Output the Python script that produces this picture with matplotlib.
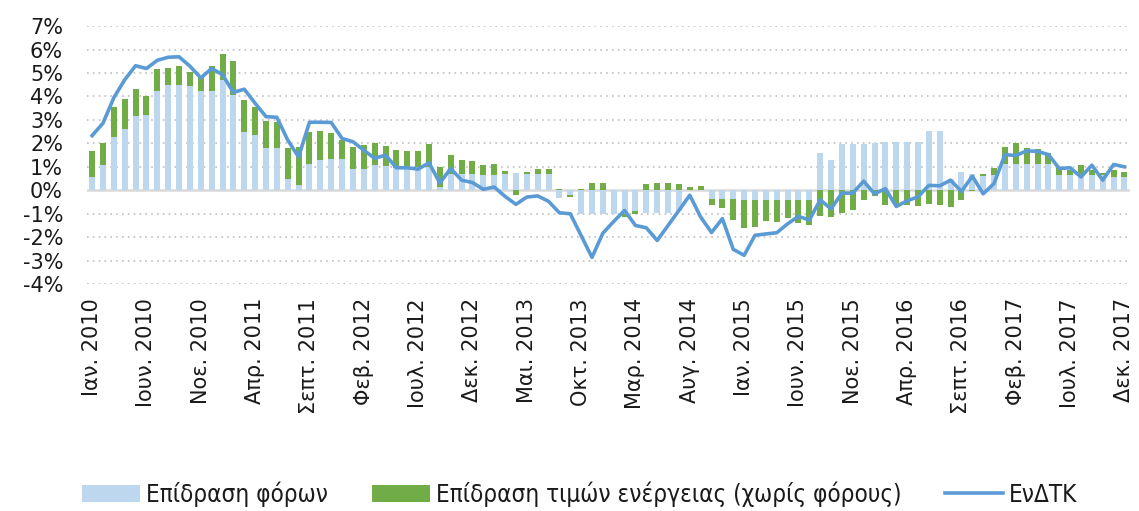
import numpy as np
import matplotlib
matplotlib.use("Agg")
import matplotlib.pyplot as plt
from matplotlib.lines import Line2D
from matplotlib.patches import Patch
from matplotlib import font_manager as fm

months = ["Ιαν.", "Φεβ.", "Μαρ.", "Απρ.", "Μαι.", "Ιουν.", "Ιουλ.", "Αυγ.", "Σεπτ.", "Οκτ.", "Νοε.", "Δεκ."]
years = list(range(2010, 2018))
labels = [f"{m} {y}" for y in years for m in months]

tax_effect = [
    0.57, 1.07, 2.26, 2.61, 3.17, 3.19, 4.24, 4.50, 4.47, 4.44, 4.23, 4.23,
    4.69, 4.07, 2.50, 2.37, 1.79, 1.79, 0.50, 0.21, 1.14, 1.31, 1.33, 1.34,
    0.90, 0.91, 1.06, 1.04, 0.97, 1.00, 1.00, 1.00, 0.15, 0.71, 0.69, 0.69,
    0.67, 0.67, 0.69, 0.74, 0.71, 0.69, 0.69, -0.31, -0.21, -1.00, -1.00, -1.00,
    -1.00, -1.00, -0.90, -0.97, -0.97, -0.97, -0.90, 0.00, 0.00, -0.36, -0.36, -0.37,
    -0.40, -0.43, -0.43, -0.43, -0.43, -0.43, -0.43, 1.60, 1.31, 1.97, 1.97, 1.97,
    2.03, 2.04, 2.04, 2.04, 2.04, 2.54, 2.54, 0.50, 0.76, 0.69, 0.62, 0.64,
    1.11, 1.14, 1.14, 1.14, 1.14, 0.64, 0.64, 0.69, 0.64, 0.64, 0.57, 0.57,
]
energy_effect = [
    1.10, 0.96, 1.27, 1.29, 1.14, 0.84, 0.93, 0.70, 0.83, 0.60, 0.60, 1.07,
    1.14, 1.46, 1.33, 1.17, 1.18, 1.12, 1.31, 1.64, 1.36, 1.23, 1.13, 0.82,
    0.93, 1.02, 0.94, 0.85, 0.74, 0.66, 0.67, 0.96, 0.85, 0.79, 0.60, 0.55,
    0.40, 0.47, 0.14, -0.20, 0.05, 0.21, 0.21, 0.04, -0.07, 0.07, 0.33, 0.31,
    0.03, -0.14, -0.11, 0.26, 0.33, 0.29, 0.26, 0.14, 0.19, -0.25, -0.38, -0.89,
    -1.20, -1.14, -0.88, -0.91, -0.74, -0.97, -1.07, -1.11, -1.14, -0.96, -0.86, -0.40,
    -0.23, -0.64, -0.60, -0.61, -0.67, -0.57, -0.64, -0.71, -0.43, -0.05, 0.09, 0.33,
    0.75, 0.89, 0.67, 0.60, 0.46, 0.29, 0.22, 0.38, 0.22, 0.10, 0.29, 0.19,
]
hicp = [
    2.33, 2.86, 3.95, 4.71, 5.31, 5.19, 5.54, 5.67, 5.69, 5.29, 4.79, 5.19,
    4.93, 4.17, 4.31, 3.71, 3.14, 3.11, 2.14, 1.42, 2.90, 2.90, 2.89, 2.21,
    2.07, 1.71, 1.36, 1.50, 0.96, 0.96, 0.90, 1.17, 0.31, 0.93, 0.43, 0.33,
    0.04, 0.14, -0.26, -0.60, -0.29, -0.24, -0.47, -0.96, -1.00, -1.93, -2.86, -1.83,
    -1.33, -0.86, -1.50, -1.60, -2.14, -1.50, -0.86, -0.21, -1.14, -1.80, -1.21, -2.52,
    -2.77, -1.92, -1.86, -1.81, -1.43, -1.11, -1.27, -0.41, -0.79, -0.12, -0.12, 0.39,
    -0.15, 0.07, -0.69, -0.45, -0.28, 0.21, 0.19, 0.43, -0.05, 0.60, -0.15, 0.29,
    1.52, 1.48, 1.68, 1.66, 1.52, 0.93, 0.96, 0.57, 1.07, 0.43, 1.10, 1.00,
]
series_names = ["Επίδραση φόρων", "Επίδραση τιμών ενέργειας (χωρίς φόρους)", "ΕνΔΤΚ"]
yticks = list(range(-4, 8))

c_tax = "#BDD7EE"
c_energy = "#70AD47"
c_line = "#5B9BD5"
text_c = "#1a1a1a"

fig = plt.figure(figsize=(11.39, 5.11), dpi=100)
ax = fig.add_axes([0.0761, 0.444, 0.9159, 0.505])

x = np.arange(len(labels))
tax = np.array(tax_effect)
en = np.array(energy_effect)
pos_base = np.where(tax > 0, tax, 0)
neg_base = np.where(tax < 0, tax, 0)
en_bottom = np.where(en >= 0, pos_base, neg_base)

w = 0.55
ax.bar(x, tax, width=w, color=c_tax, zorder=2)
ax.bar(x, en, width=w, bottom=en_bottom, color=c_energy, zorder=2)
ax.plot(x, hicp, color=c_line, lw=2.6, zorder=3, solid_joinstyle="round")

ax.set_xlim(-0.5, len(labels) - 0.5)
ax.set_ylim(-4, 7)
ax.set_yticks(yticks)
ax.set_yticklabels([f"{v}%" for v in yticks])
for v in yticks:
    if v == 0:
        continue
    ax.axhline(v, color="#BFBFBF", lw=1.2, ls=(0, (1, 2.5)), zorder=1)
ax.axhline(0, color="#D9D9D9", lw=1.8, zorder=1.5)

tick_idx = x[::5]
ax.set_xticks(tick_idx)
ax.set_xticklabels([labels[i] for i in tick_idx], rotation=90)
for s in ax.spines.values():
    s.set_visible(False)
ax.tick_params(axis="both", length=0, labelsize=15, colors=text_c)
ax.tick_params(axis="y", pad=17)
ax.tick_params(axis="x", pad=10)

cond = [f for f in fm.fontManager.ttflist
        if ("Condensed" in f.fname or "Narrow" in f.fname)
        and f.weight in (400, "normal", "regular", "book")
        and f.style == "normal"
        and "Bold" not in f.fname and "Oblique" not in f.fname and "Italic" not in f.fname]
cond.sort(key=lambda f: (0 if "DejaVuSansCondensed.ttf" in f.fname else 1, f.fname))
if cond:
    leg_prop = fm.FontProperties(fname=cond[0].fname, size=17.4)
else:
    leg_prop = fm.FontProperties(family="DejaVu Sans", size=15)

handles = [
    Patch(facecolor=c_tax, edgecolor="none"),
    Patch(facecolor=c_energy, edgecolor="none"),
    Line2D([0], [0], color=c_line, lw=2.6),
]
leg = fig.legend(handles, series_names, loc="center", bbox_to_anchor=(0.509, 0.033),
                 ncol=3, frameon=False, handlelength=2.4, handleheight=0.7,
                 handletextpad=0.25, columnspacing=1.8, prop=leg_prop)
for t in leg.get_texts():
    t.set_color(text_c)

fig.savefig("out.png", dpi=100)
